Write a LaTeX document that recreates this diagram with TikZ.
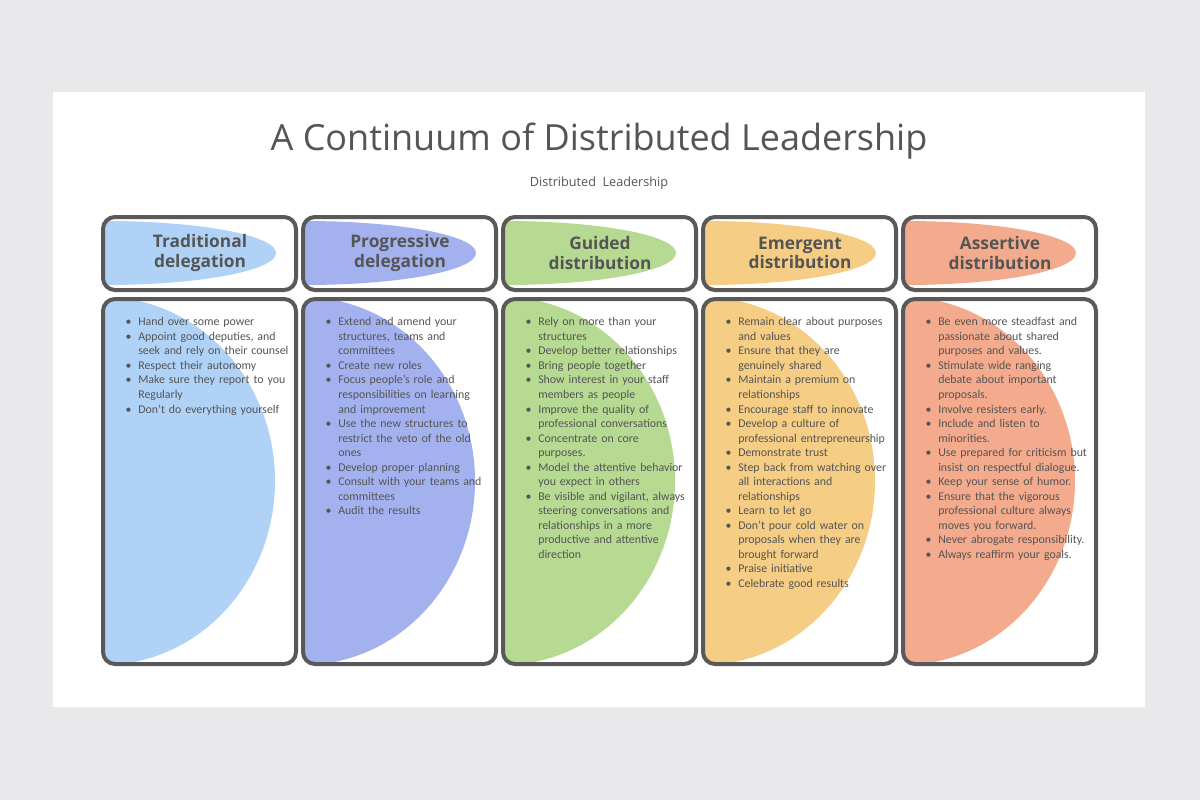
\documentclass[tikz,border=0pt]{standalone}
\usepackage{fontspec}
\setmainfont{Carlito}
\newfontfamily\titlefont{Open Sans}
\definecolor{bgout}{HTML}{E9E8EA}
\definecolor{txt}{HTML}{555555}
\definecolor{bord}{HTML}{595959}
\definecolor{cA}{HTML}{AFD2F6}
\definecolor{cB}{HTML}{A3B2EE}
\definecolor{cC}{HTML}{B6DA92}
\definecolor{cD}{HTML}{F6CD84}
\definecolor{cE}{HTML}{F4AA8C}
\newenvironment{blist}{\begin{list}{\textbullet}{\leftmargin=15pt\labelwidth=10pt\labelsep=5pt\itemsep=0pt\topsep=0pt\parsep=0pt\partopsep=0pt}}{\end{list}}
\tikzset{
 boxframe/.style={draw=bord,line width=3pt,rounded corners=9pt},
 headtxt/.style={font=\fontsize{13}{14.5}\selectfont\bfseries\sffamily,text=txt,align=center},
 bodytxt/.style={font=\fontsize{8.9}{10.9}\selectfont,text=txt,text width=128pt,inner sep=0pt,anchor=north west,align=left},
}
\setsansfont{Open Sans}
\begin{document}
\begin{tikzpicture}[x=0.75pt,y=-0.75pt]
\fill[bgout] (0,0) rectangle (1200,800);
\fill[white] (53,92) rectangle (1145,707);
\node[font=\titlefont\fontsize{27}{30}\selectfont,text=txt] (title) at (599,141) {A Continuum of Distributed Leadership};
\node[font=\titlefont\fontsize{9.5}{11}\selectfont,text=txt] (sub) at (599,183) {Distributed~ Leadership};
\foreach \i/\c/\ha/\hb [count=\k] in {0/cA/Traditional/delegation,1/cB/Progressive/delegation,2/cC/Guided/distribution,3/cD/Emergent/distribution,4/cE/Assertive/distribution}{
 \pgfmathsetmacro{\xl}{103+200*\i}
 \pgfmathsetmacro{\xr}{\xl+193}
 \begin{scope}
  \clip[rounded corners=9pt] (\xl,217) rectangle (\xr,290);
  \fill[\c] (\xl+2,253) ellipse [x radius=171, y radius=32];
 \end{scope}
 \draw[boxframe] (\xl,217) rectangle (\xr,290);
 \begin{scope}
  \clip[rounded corners=9pt] (\xl,299) rectangle (\xr,664);
  \fill[\c] (\xl,481) ellipse [x radius=172, y radius=184];
 \end{scope}
 \draw[boxframe] (\xl,299) rectangle (\xr,664);
 \node[headtxt] (h\k) at (\xl+97,253) {\ha\\\hb};
}
\node[bodytxt] (b1) at (118,311) {\begin{blist}
\item Hand over some power
\item Appoint good deputies, and seek and rely on their counsel
\item Respect their autonomy
\item Make sure they report to you Regularly
\item Don't do everything yourself
\end{blist}};
\node[bodytxt] (b2) at (318,311) {\begin{blist}
\item Extend and amend your structures, teams and committees
\item Create new roles
\item Focus people's role and responsibilities on learning and improvement
\item Use the new structures to restrict the veto of the old ones
\item Develop proper planning
\item Consult with your teams and committees
\item Audit the results
\end{blist}};
\node[bodytxt] (b3) at (518,311) {\begin{blist}
\item Rely on more than your structures
\item Develop better relationships
\item Bring people together
\item Show interest in your staff members as people
\item Improve the quality of professional conversations
\item Concentrate on core purposes.
\item Model the attentive behavior you expect in others
\item Be visible and vigilant, always steering conversations and relationships in a more productive and attentive direction
\end{blist}};
\node[bodytxt] (b4) at (718,311) {\begin{blist}
\item Remain clear about purposes and values
\item Ensure that they are genuinely shared
\item Maintain a premium on relationships
\item Encourage staff to innovate
\item Develop a culture of professional entrepreneurship
\item Demonstrate trust
\item Step back from watching over all interactions and relationships
\item Learn to let go
\item Don't pour cold water on proposals when they are brought forward
\item Praise initiative
\item Celebrate good results
\end{blist}};
\node[bodytxt] (b5) at (918,311) {\begin{blist}
\item Be even more steadfast and passionate about shared purposes and values.
\item Stimulate wide ranging debate about important proposals.
\item Involve resisters early.
\item Include and listen to minorities.
\item Use prepared for criticism but insist on respectful dialogue.
\item Keep your sense of humor.
\item Ensure that the vigorous professional culture always moves you forward.
\item Never abrogate responsibility.
\item Always reaffirm your goals.
\end{blist}};
\end{tikzpicture}
\end{document}
